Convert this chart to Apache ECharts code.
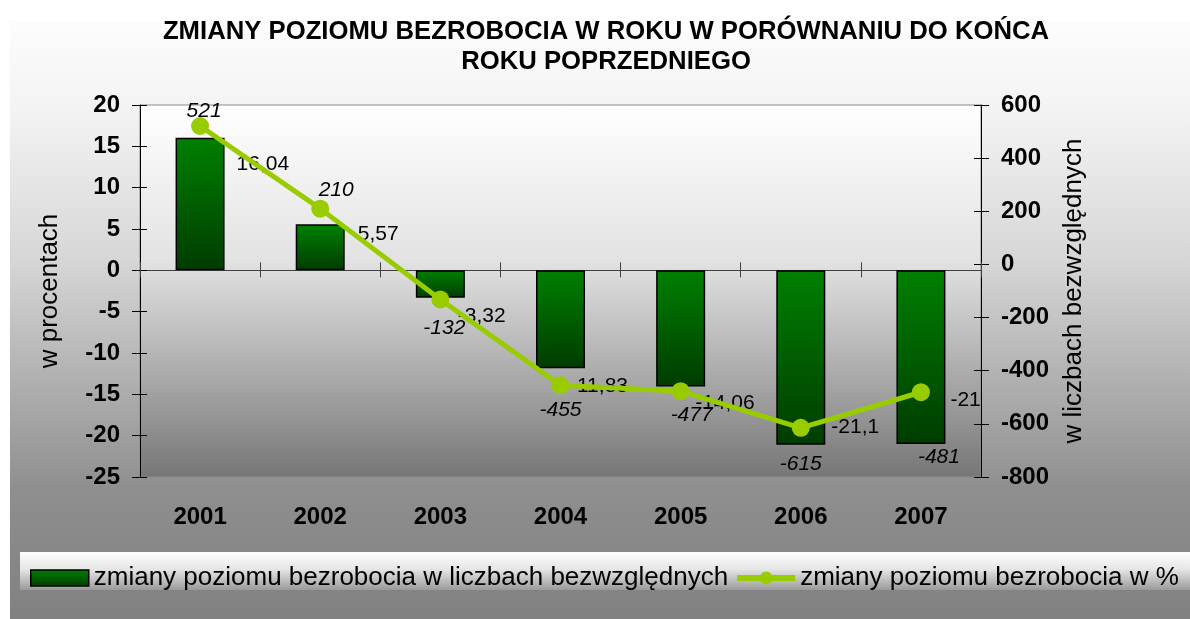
<!DOCTYPE html>
<html>
<head>
<meta charset="utf-8">
<script src="https://cdn.jsdelivr.net/npm/echarts@6/dist/echarts.min.js"></script>
<style>
  html, body { margin: 0; padding: 0; background: #ffffff; }
  #chart { width: 1190px; height: 619px; }
</style>
</head>
<body>
<div id="chart"></div>
<script>
// Unemployment change per year: percent (bars, left axis) and absolute numbers (line, right axis)
const years = ['2001', '2002', '2003', '2004', '2005', '2006', '2007'];
const pctChange = [16.04, 5.57, -3.32, -11.83, -14.06, -21.1, -21];
const absChange = [521, 210, -132, -455, -477, -615, -481];

// Axis ranges: [min, max, interval]
const pctAxis = [-25, 20, 5];
const absAxis = [-800, 600, 200];

const titleLines = ['ZMIANY POZIOMU BEZROBOCIA W ROKU W PORÓWNANIU DO KOŃCA', 'ROKU POPRZEDNIEGO'];
const barSeriesName = 'zmiany poziomu bezrobocia w liczbach bezwzględnych';
const lineSeriesName = 'zmiany poziomu bezrobocia w %';
const leftAxisName = 'w procentach';
const rightAxisName = 'w liczbach bezwzględnych';

// Hand-placed label nudges [dx, dy]
const barLabelShift = [[12, -40], [13, -13], [-7, 32], [-15, 67], [-10, 75], [6, 70], [5, 43]];
const lineLabelShift = [[4, -15], [16, -18], [4, 29], [0, 25], [11, 24], [0, 36], [18, 65]];

const FONT = 'Arial, "Liberation Sans", Helvetica, sans-serif';
const fmt = v => String(v).replace('.', ',');

const grid = { left: 140, right: 209, top: 105, bottom: 142 };

const barFill = {
  type: 'linear', x: 0, y: 0, x2: 0, y2: 1,
  colorStops: [{ offset: 0, color: '#008000' }, { offset: 1, color: '#003c00' }]
};

const chart = echarts.init(document.getElementById('chart'), null, { renderer: 'canvas' });

function yAxisBase(range, pos, inside) {
  return {
    type: 'value', position: pos,
    min: range[0], max: range[1], interval: range[2],
    splitLine: { show: false },
    axisLine: { show: !inside, lineStyle: { color: '#000000', width: 1 } },
    axisTick: { show: true, inside: inside, length: inside ? 7 : 8, lineStyle: { color: '#000000' } },
    axisLabel: { show: !inside }
  };
}

const yLeft = Object.assign(yAxisBase(pctAxis, 'left', false), {
  name: leftAxisName, nameLocation: 'middle', nameRotate: 90, nameGap: 77,
  nameTextStyle: { fontFamily: FONT, fontSize: 26, color: '#000000' },
  axisLabel: { show: true, margin: 20, fontFamily: FONT, fontSize: 24, fontWeight: 'bold', color: '#000000' }
});
const yRight = Object.assign(yAxisBase(absAxis, 'right', false), {
  name: rightAxisName, nameLocation: 'middle', nameRotate: 90, nameGap: 80,
  nameTextStyle: { fontFamily: FONT, fontSize: 26, color: '#000000' },
  axisLabel: { show: true, margin: 20, fontFamily: FONT, fontSize: 24, fontWeight: 'bold', color: '#000000' }
});

const option = {
  backgroundColor: '#ffffff',
  animation: false,
  title: {
    text: titleLines.join('\n'),
    left: 601, top: 12, textAlign: 'center',
    textStyle: { fontFamily: FONT, fontSize: 25.7, fontWeight: 'bold', color: '#000000', lineHeight: 30 }
  },
  graphic: [
    {
      type: 'rect', z: -100, silent: true,
      shape: { x: 10, y: 22, width: 1180, height: 597 },
      style: {
        fill: {
          type: 'linear', x: 0, y: 0, x2: 0, y2: 1,
          colorStops: [
            { offset: 0, color: '#fcfcfc' },
            { offset: 0.15, color: '#f3f3f3' },
            { offset: 0.4, color: '#d6d6d6' },
            { offset: 0.6, color: '#b0b0b0' },
            { offset: 0.78, color: '#8f8f8f' },
            { offset: 0.88, color: '#888888' },
            { offset: 1, color: '#818181' }
          ]
        }
      }
    },
    {
      type: 'rect', z: -90, silent: true,
      shape: { x: 20, y: 552, width: 1170, height: 38 },
      style: {
        fill: {
          type: 'linear', x: 0, y: 0, x2: 0, y2: 1,
          colorStops: [
            { offset: 0, color: '#ffffff' },
            { offset: 0.45, color: '#e6e6e6' },
            { offset: 1, color: '#9a9a9a' }
          ]
        }
      }
    }
  ],
  grid: Object.assign({
    show: true,
    borderColor: '#8a8a8a', borderWidth: 1,
    backgroundColor: {
      type: 'linear', x: 0, y: 0, x2: 0, y2: 1,
      colorStops: [
        { offset: 0, color: '#ffffff' },
        { offset: 0.42, color: '#e2e2e2' },
        { offset: 0.75, color: '#a6a6a6' },
        { offset: 1, color: '#767676' }
      ]
    }
  }, grid),
  legend: {
    left: 30, top: 565, width: 1160, padding: 0,
    itemGap: 6, itemWidth: 58, itemHeight: 16,
    textStyle: { fontFamily: FONT, fontSize: 26, color: '#000000' },
    data: [
      { name: barSeriesName, icon: 'rect', itemStyle: { color: barFill, borderColor: '#000000', borderWidth: 1.5 } },
      { name: lineSeriesName, lineStyle: { width: 6, color: '#99cc00' }, itemStyle: { color: '#99cc00' } }
    ]
  },
  xAxis: [
    {
      type: 'category', data: years, position: 'bottom',
      axisLine: { show: false }, axisTick: { show: false },
      axisLabel: { margin: 28, fontFamily: FONT, fontSize: 24, fontWeight: 'bold', color: '#000000' }
    },
    {
      type: 'category', data: years,
      axisLine: { onZero: true, onZeroAxisIndex: 0, lineStyle: { color: '#404040', width: 1 } },
      axisTick: { show: true, inside: true, length: 7, lineStyle: { color: '#404040' } },
      axisLabel: { show: false }
    },
    {
      type: 'category', data: years,
      axisLine: { onZero: true, onZeroAxisIndex: 0, lineStyle: { color: '#404040', width: 1 } },
      axisTick: { show: true, inside: false, length: 8, lineStyle: { color: '#404040' } },
      axisLabel: { show: false }
    }
  ],
  yAxis: [
    yLeft,
    yRight,
    yAxisBase(pctAxis, 'left', true),
    yAxisBase(absAxis, 'right', true)
  ],
  series: [
    {
      name: barSeriesName, type: 'bar',
      xAxisIndex: 0, yAxisIndex: 0,
      barWidth: 49,
      itemStyle: { color: barFill, borderColor: '#000000', borderWidth: 1.5 },
      data: pctChange.map((v, i) => ({
        value: v,
        label: { offset: barLabelShift[i] }
      })),
      label: {
        show: true, position: 'right', distance: 0,
        fontFamily: FONT, fontSize: 21, color: '#000000',
        formatter: p => fmt(p.value)
      },
      z: 2
    },
    {
      name: lineSeriesName, type: 'line',
      xAxisIndex: 0, yAxisIndex: 1,
      symbol: 'circle', symbolSize: 18,
      lineStyle: { color: '#99cc00', width: 5 },
      itemStyle: { color: '#99cc00' },
      data: absChange.map((v, i) => ({
        value: v,
        label: { offset: lineLabelShift[i] }
      })),
      label: {
        show: true, position: 'inside',
        fontFamily: FONT, fontSize: 21, fontStyle: 'italic', color: '#000000',
        formatter: p => fmt(p.value)
      },
      z: 3
    }
  ]
};

chart.setOption(option);
</script>
</body>
</html>
